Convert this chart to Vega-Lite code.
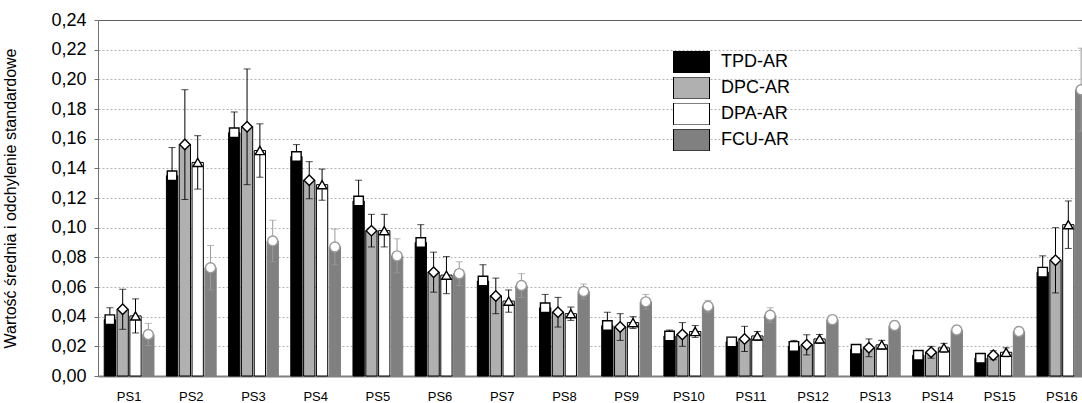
{
  "$schema": "https://vega.github.io/schema/vega-lite/v6.json",
  "width": 984,
  "height": 356,
  "autosize": {"type": "none"},
  "padding": {"left": 98, "top": 20, "right": 0, "bottom": 27},
  "config": {
    "locale": {"number": {"decimal": ",", "thousands": " ", "grouping": [3], "currency": ["", " zł"]}},
    "view": {"stroke": null},
    "font": "Liberation Sans",
    "axisY": {
      "titleFont": "Liberation Sans", "titleFontSize": 16, "titleFontWeight": "normal", "titleColor": "#000000", "titlePadding": 32,
      "labelFont": "Liberation Sans", "labelFontSize": 18, "labelColor": "#000000", "labelPadding": 8, "labelOverlap": false,
      "tickSize": 4, "tickColor": "#707070", "domainColor": "#707070",
      "grid": true, "gridWidth": 1
    },
    "axisX": {
      "labelFont": "Liberation Sans", "grid": false, "title": null, "labelAngle": 0, "labelFontSize": 13, "labelColor": "#000000",
      "ticks": false, "labelPadding": 14, "domainColor": "#808080", "domainWidth": 2
    }
  },
  "datasets": {
    "rows": [
      {"group": "PS1", "series": "TPD-AR", "mean": 0.038, "lo": 0.030, "hi": 0.046},
      {"group": "PS1", "series": "DPC-AR", "mean": 0.045, "lo": 0.0315, "hi": 0.0585},
      {"group": "PS1", "series": "DPA-AR", "mean": 0.0405, "lo": 0.029, "hi": 0.052},
      {"group": "PS1", "series": "FCU-AR", "mean": 0.028, "lo": 0.0205, "hi": 0.0355},
      {"group": "PS2", "series": "TPD-AR", "mean": 0.135, "lo": 0.116, "hi": 0.154},
      {"group": "PS2", "series": "DPC-AR", "mean": 0.156, "lo": 0.119, "hi": 0.193},
      {"group": "PS2", "series": "DPA-AR", "mean": 0.144, "lo": 0.126, "hi": 0.162},
      {"group": "PS2", "series": "FCU-AR", "mean": 0.073, "lo": 0.058, "hi": 0.088},
      {"group": "PS3", "series": "TPD-AR", "mean": 0.164, "lo": 0.150, "hi": 0.178},
      {"group": "PS3", "series": "DPC-AR", "mean": 0.168, "lo": 0.129, "hi": 0.207},
      {"group": "PS3", "series": "DPA-AR", "mean": 0.152, "lo": 0.134, "hi": 0.170},
      {"group": "PS3", "series": "FCU-AR", "mean": 0.091, "lo": 0.077, "hi": 0.105},
      {"group": "PS4", "series": "TPD-AR", "mean": 0.148, "lo": 0.140, "hi": 0.156},
      {"group": "PS4", "series": "DPC-AR", "mean": 0.132, "lo": 0.1195, "hi": 0.1445},
      {"group": "PS4", "series": "DPA-AR", "mean": 0.129, "lo": 0.1185, "hi": 0.1395},
      {"group": "PS4", "series": "FCU-AR", "mean": 0.087, "lo": 0.075, "hi": 0.099},
      {"group": "PS5", "series": "TPD-AR", "mean": 0.118, "lo": 0.104, "hi": 0.132},
      {"group": "PS5", "series": "DPC-AR", "mean": 0.098, "lo": 0.087, "hi": 0.109},
      {"group": "PS5", "series": "DPA-AR", "mean": 0.098, "lo": 0.087, "hi": 0.109},
      {"group": "PS5", "series": "FCU-AR", "mean": 0.081, "lo": 0.0695, "hi": 0.0925},
      {"group": "PS6", "series": "TPD-AR", "mean": 0.090, "lo": 0.078, "hi": 0.102},
      {"group": "PS6", "series": "DPC-AR", "mean": 0.070, "lo": 0.0565, "hi": 0.0835},
      {"group": "PS6", "series": "DPA-AR", "mean": 0.068, "lo": 0.0555, "hi": 0.0805},
      {"group": "PS6", "series": "FCU-AR", "mean": 0.069, "lo": 0.061, "hi": 0.077},
      {"group": "PS7", "series": "TPD-AR", "mean": 0.064, "lo": 0.053, "hi": 0.075},
      {"group": "PS7", "series": "DPC-AR", "mean": 0.054, "lo": 0.042, "hi": 0.066},
      {"group": "PS7", "series": "DPA-AR", "mean": 0.0505, "lo": 0.043, "hi": 0.058},
      {"group": "PS7", "series": "FCU-AR", "mean": 0.061, "lo": 0.053, "hi": 0.069},
      {"group": "PS8", "series": "TPD-AR", "mean": 0.046, "lo": 0.037, "hi": 0.055},
      {"group": "PS8", "series": "DPC-AR", "mean": 0.043, "lo": 0.033, "hi": 0.053},
      {"group": "PS8", "series": "DPA-AR", "mean": 0.042, "lo": 0.0375, "hi": 0.0465},
      {"group": "PS8", "series": "FCU-AR", "mean": 0.057, "lo": 0.052, "hi": 0.062},
      {"group": "PS9", "series": "TPD-AR", "mean": 0.034, "lo": 0.025, "hi": 0.043},
      {"group": "PS9", "series": "DPC-AR", "mean": 0.033, "lo": 0.024, "hi": 0.042},
      {"group": "PS9", "series": "DPA-AR", "mean": 0.036, "lo": 0.032, "hi": 0.040},
      {"group": "PS9", "series": "FCU-AR", "mean": 0.050, "lo": 0.045, "hi": 0.055},
      {"group": "PS10", "series": "TPD-AR", "mean": 0.027, "lo": 0.023, "hi": 0.031},
      {"group": "PS10", "series": "DPC-AR", "mean": 0.028, "lo": 0.020, "hi": 0.036},
      {"group": "PS10", "series": "DPA-AR", "mean": 0.030, "lo": 0.026, "hi": 0.034},
      {"group": "PS10", "series": "FCU-AR", "mean": 0.047, "lo": 0.043, "hi": 0.051},
      {"group": "PS11", "series": "TPD-AR", "mean": 0.023, "lo": 0.020, "hi": 0.026},
      {"group": "PS11", "series": "DPC-AR", "mean": 0.025, "lo": 0.0165, "hi": 0.0335},
      {"group": "PS11", "series": "DPA-AR", "mean": 0.027, "lo": 0.024, "hi": 0.030},
      {"group": "PS11", "series": "FCU-AR", "mean": 0.041, "lo": 0.036, "hi": 0.046},
      {"group": "PS12", "series": "TPD-AR", "mean": 0.020, "lo": 0.016, "hi": 0.024},
      {"group": "PS12", "series": "DPC-AR", "mean": 0.021, "lo": 0.0142, "hi": 0.0278},
      {"group": "PS12", "series": "DPA-AR", "mean": 0.025, "lo": 0.022, "hi": 0.028},
      {"group": "PS12", "series": "FCU-AR", "mean": 0.038, "lo": 0.035, "hi": 0.041},
      {"group": "PS13", "series": "TPD-AR", "mean": 0.018, "lo": 0.015, "hi": 0.021},
      {"group": "PS13", "series": "DPC-AR", "mean": 0.019, "lo": 0.013, "hi": 0.025},
      {"group": "PS13", "series": "DPA-AR", "mean": 0.021, "lo": 0.018, "hi": 0.024},
      {"group": "PS13", "series": "FCU-AR", "mean": 0.034, "lo": 0.031, "hi": 0.037},
      {"group": "PS14", "series": "TPD-AR", "mean": 0.014, "lo": 0.012, "hi": 0.016},
      {"group": "PS14", "series": "DPC-AR", "mean": 0.016, "lo": 0.012, "hi": 0.020},
      {"group": "PS14", "series": "DPA-AR", "mean": 0.019, "lo": 0.016, "hi": 0.022},
      {"group": "PS14", "series": "FCU-AR", "mean": 0.031, "lo": 0.028, "hi": 0.034},
      {"group": "PS15", "series": "TPD-AR", "mean": 0.012, "lo": 0.010, "hi": 0.014},
      {"group": "PS15", "series": "DPC-AR", "mean": 0.014, "lo": 0.011, "hi": 0.017},
      {"group": "PS15", "series": "DPA-AR", "mean": 0.016, "lo": 0.013, "hi": 0.019},
      {"group": "PS15", "series": "FCU-AR", "mean": 0.030, "lo": 0.028, "hi": 0.032},
      {"group": "PS16", "series": "TPD-AR", "mean": 0.070, "lo": 0.059, "hi": 0.081},
      {"group": "PS16", "series": "DPC-AR", "mean": 0.078, "lo": 0.056, "hi": 0.100},
      {"group": "PS16", "series": "DPA-AR", "mean": 0.102, "lo": 0.086, "hi": 0.118},
      {"group": "PS16", "series": "FCU-AR", "mean": 0.193, "lo": 0.165, "hi": 0.221}
    ]
  },
  "data": {"name": "rows"},
  "layer": [
    {
      "mark": {"type": "bar", "strokeWidth": 1},
      "encoding": {
        "x": {
          "field": "group", "type": "nominal", "title": null,
          "scale": {"domain": ["PS1","PS2","PS3","PS4","PS5","PS6","PS7","PS8","PS9","PS10","PS11","PS12","PS13","PS14","PS15","PS16"], "range": [0, 995], "paddingInner": 0.2, "paddingOuter": 0.1}
        },
        "xOffset": {"field": "series", "type": "nominal", "scale": {"domain": ["TPD-AR","DPC-AR","DPA-AR","FCU-AR"], "paddingInner": 0.12}},
        "y": {
          "field": "mean", "type": "quantitative",
          "scale": {"domain": [0, 0.24], "nice": false, "zero": true},
          "axis": {
            "title": "Wartość średnia i odchylenie standardowe",
            "values": [0,0.02,0.04,0.06,0.08,0.1,0.12,0.14,0.16,0.18,0.2,0.22,0.24],
            "tickCount": 20,
            "format": ".2f",
            "labelOverlap": false,
            "gridColor": {"condition": {"test": "datum.value > 0.235", "value": "#606060"}, "value": "#b4b4b4"},
            "gridDash": {"condition": {"test": "datum.value > 0.235", "value": []}, "value": [2, 2]}
          }
        },
        "fill": {
          "field": "series", "type": "nominal",
          "scale": {"domain": ["TPD-AR","DPC-AR","DPA-AR","FCU-AR"], "range": ["#000000","#b0b0b0","#ffffff","#808080"]},
          "legend": {
            "orient": "none", "legendX": 575, "legendY": 31, "title": null,
            "symbolType": "M-1,-0.611H1V0.611H-1Z",
            "symbolSize": 1296, "clipHeight": 22, "labelFontSize": 18, "labelColor": "#000000", "labelOffset": 11,
            "symbolStrokeColor": "#000000", "symbolStrokeWidth": 1,
            "rowPadding": 4, "padding": 0
          }
        },
        "stroke": {"condition": {"test": "datum.series === 'FCU-AR'", "value": "#808080"}, "value": "#000000"}
      }
    },
    {
      "mark": {"type": "rule", "strokeWidth": 1},
      "encoding": {
        "x": {"field": "group", "type": "nominal", "title": null},
        "xOffset": {"field": "series", "type": "nominal"},
        "y": {"field": "lo", "type": "quantitative"},
        "y2": {"field": "hi"},
        "stroke": {"condition": {"test": "datum.series === 'FCU-AR'", "value": "#9a9a9a"}, "value": "#000000"}
      }
    },
    {
      "mark": {"type": "tick", "size": 7, "thickness": 1},
      "encoding": {
        "x": {"field": "group", "type": "nominal", "title": null},
        "xOffset": {"field": "series", "type": "nominal"},
        "y": {"field": "lo", "type": "quantitative"},
        "color": {"condition": {"test": "datum.series === 'FCU-AR'", "value": "#9a9a9a"}, "value": "#000000"}
      }
    },
    {
      "mark": {"type": "tick", "size": 7, "thickness": 1},
      "encoding": {
        "x": {"field": "group", "type": "nominal", "title": null},
        "xOffset": {"field": "series", "type": "nominal"},
        "y": {"field": "hi", "type": "quantitative"},
        "color": {"condition": {"test": "datum.series === 'FCU-AR'", "value": "#9a9a9a"}, "value": "#000000"}
      }
    },
    {
      "mark": {"type": "point", "filled": false, "fill": "#ffffff", "fillOpacity": 1, "opacity": 1, "strokeWidth": 1.4},
      "encoding": {
        "x": {"field": "group", "type": "nominal", "title": null},
        "xOffset": {"field": "series", "type": "nominal"},
        "y": {"field": "mean", "type": "quantitative"},
        "shape": {"condition": [
          {"test": "datum.series === 'TPD-AR'", "value": "square"},
          {"test": "datum.series === 'DPC-AR'", "value": "diamond"},
          {"test": "datum.series === 'DPA-AR'", "value": "triangle-up"}
        ], "value": "circle"},
        "size": {"condition": [
          {"test": "datum.series === 'DPC-AR'", "value": 110},
          {"test": "datum.series === 'FCU-AR'", "value": 100}
        ], "value": 90},
        "stroke": {"condition": {"test": "datum.series === 'FCU-AR'", "value": "#9a9a9a"}, "value": "#000000"}
      }
    }
  ]
}
